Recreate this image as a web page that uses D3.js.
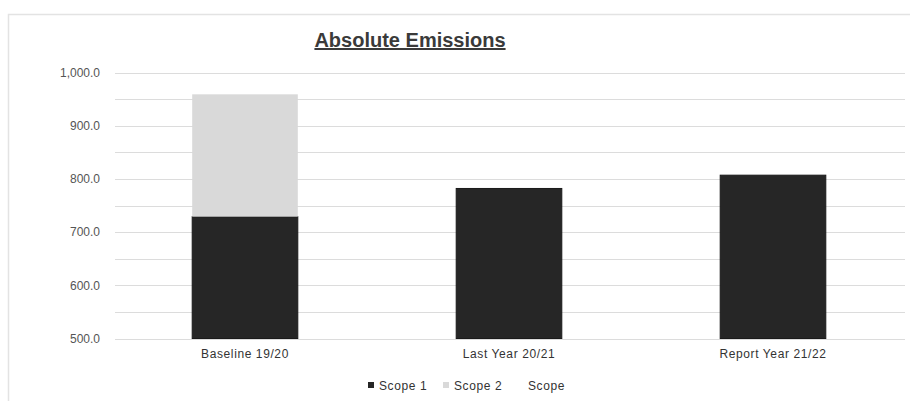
<!DOCTYPE html>
<html>
<head>
<meta charset="utf-8">
<script src="https://cdn.jsdelivr.net/npm/d3@7"></script>
<style>
  html, body { margin: 0; padding: 0; background: #fff; }
  svg { display: block; font-family: "Liberation Sans", Arial, sans-serif; }
</style>
</head>
<body>
<svg id="chart" width="910" height="401"></svg>
<script>
// Emissions by reporting period (tCO2e)
const categories = ["Baseline 19/20", "Last Year 20/21", "Report Year 21/22"];
const scope1 = [729, 782, 807];
const scope2 = [230, 0, 0];
const scope3 = [0, 0, 0];
const seriesNames = ["Scope 1", "Scope 2", "Scope"];
const seriesColors = ["#262626", "#d9d9d9", "#ffffff"];
const yTicks = [500, 600, 700, 800, 900, 1000];
const yGrid = [500, 550, 600, 650, 700, 750, 800, 850, 900, 950, 1000];

const svg = d3.select("#chart");
const margin = { left: 115, right: 5, top: 72.5, bottom: 62.5 };
const W = 910, H = 401;

// chart frame
svg.append("rect")
  .attr("x", 8.5).attr("y", 14.5)
  .attr("width", 910).attr("height", 400)
  .attr("fill", "#fff").attr("stroke", "#e3e3e3").attr("stroke-width", 1.5);

const x = d3.scaleBand()
  .domain(categories)
  .range([113, W - margin.right])
  .paddingInner(0.6)
  .paddingOuter(0.3);

const y = d3.scaleLinear()
  .domain([500, 1000])
  .range([H - margin.bottom, margin.top]);

// gridlines
svg.append("g")
  .selectAll("line")
  .data(yGrid)
  .join("line")
  .attr("x1", margin.left).attr("x2", W - margin.right)
  .attr("y1", d => Math.round(y(d)) + 0.5).attr("y2", d => Math.round(y(d)) + 0.5)
  .attr("stroke", "#dcdcdc").attr("stroke-width", 1);

// y axis labels
const yAxis = d3.axisLeft(y)
  .tickValues(yTicks)
  .tickSize(0)
  .tickPadding(0)
  .tickFormat(d3.format(",.1f"));
const gy = svg.append("g")
  .attr("transform", `translate(100,0)`)
  .call(yAxis);
gy.select(".domain").remove();
gy.selectAll("text")
  .attr("fill", "#555").attr("font-size", "12px");

// stacked bars (axis starts at 500, segments are clipped to the axis floor)
const table = categories.map((c, i) => ({
  category: c, "Scope 1": scope1[i], "Scope 2": scope2[i], "Scope": scope3[i]
}));
const color = d3.scaleOrdinal().domain(seriesNames).range(seriesColors);
const stacked = d3.stack().keys(seriesNames)(table);
svg.append("g")
  .selectAll("g")
  .data(stacked)
  .join("g")
  .attr("fill", d => color(d.key))
  .selectAll("rect")
  .data(d => d.filter(s => s[1] - s[0] > 0).map(s => ({ s, key: d.key })))
  .join("rect")
  .attr("x", d => x(d.s.data.category))
  .attr("width", x.bandwidth())
  .attr("y", d => y(Math.max(500, d.s[1])))
  .attr("height", d => y(Math.max(500, d.s[0])) - y(Math.max(500, d.s[1])))
  .attr("stroke", d => d.key === "Scope 1" ? "#1a1a1a" : "none")
  .attr("stroke-width", 1);

// category labels
const xAxis = d3.axisBottom(x).tickSize(0).tickPadding(0);
const gx = svg.append("g")
  .attr("transform", `translate(0,${H - margin.bottom + 11})`)
  .call(xAxis);
gx.select(".domain").remove();
gx.selectAll("text")
  .attr("fill", "#333").attr("font-size", "12px")
  .attr("letter-spacing", "0.6px");

// title
svg.append("text")
  .attr("x", 410).attr("y", 47)
  .attr("text-anchor", "middle")
  .attr("font-size", "20px").attr("font-weight", "bold")
  .attr("fill", "#3a3a3a")
  .attr("text-decoration", "underline")
  .text("Absolute Emissions");

// legend
const legendItems = [
  { name: seriesNames[0], color: seriesColors[0], x: 368 },
  { name: seriesNames[1], color: seriesColors[1], x: 443 },
  { name: seriesNames[2], color: seriesColors[2], x: 517 }
];
const lg = svg.append("g");
const li = lg.selectAll("g").data(legendItems).join("g")
  .attr("transform", d => `translate(${d.x},386)`);
li.append("rect")
  .attr("x", 0).attr("y", -4).attr("width", 6).attr("height", 6)
  .attr("fill", d => d.color);
li.append("text")
  .attr("x", 11).attr("y", 4)
  .attr("font-size", "12px").attr("fill", "#333")
  .attr("letter-spacing", "0.6px")
  .text(d => d.name);
</script>
</body>
</html>
